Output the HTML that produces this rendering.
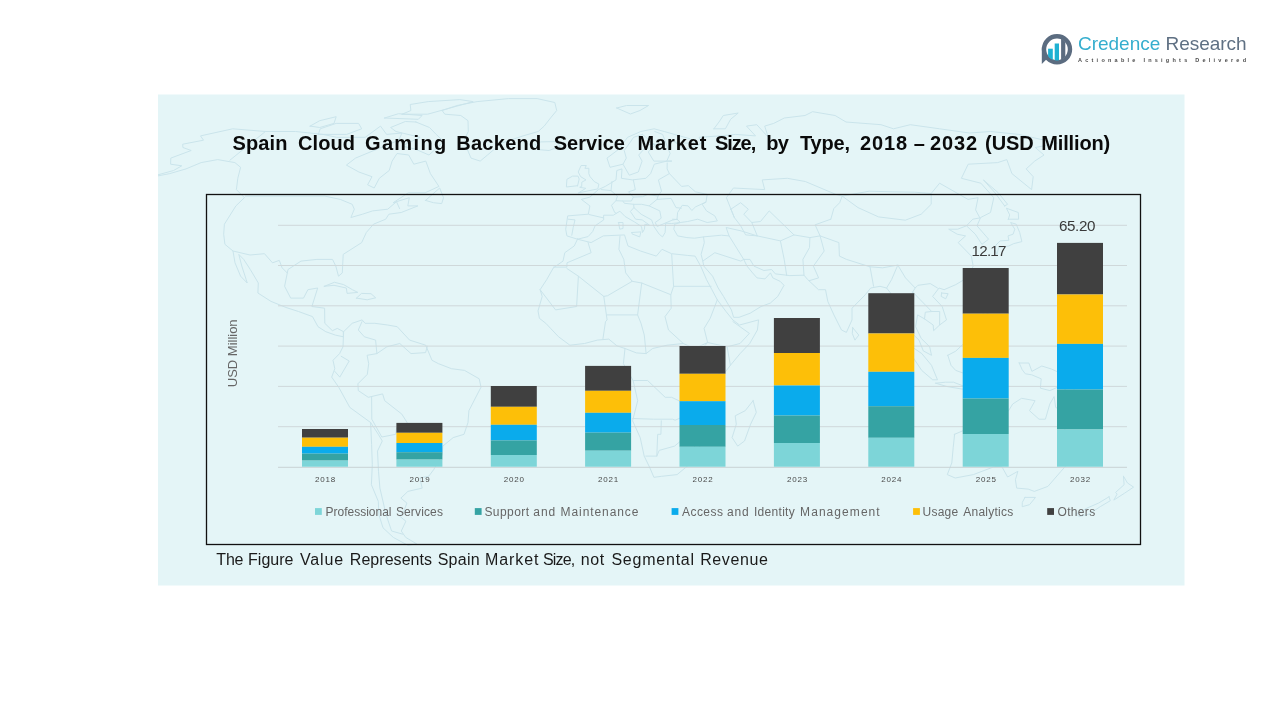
<!DOCTYPE html>
<html lang="en"><head><meta charset="utf-8"><title>Spain Cloud Gaming Backend Service Market Size</title>
<style>
html,body{margin:0;padding:0;background:#fff;}
body{width:1280px;height:720px;overflow:hidden;position:relative;font-family:"Liberation Sans",sans-serif;}
svg{position:absolute;left:0;top:0;display:block;}
text{font-family:"Liberation Sans",sans-serif;white-space:pre;}
</style></head><body>
<svg width="1280" height="720" viewBox="0 0 1280 720">
<defs>
<clipPath id="panelclip"><rect x="158" y="94.5" width="1026.5" height="491"/></clipPath>
<clipPath id="ringclip"><circle cx="1057" cy="49.3" r="11.2"/></clipPath>
</defs>
<rect x="0" y="0" width="1280" height="720" fill="#ffffff"/>
<!-- panel -->
<rect x="158" y="94.5" width="1026.5" height="491" fill="#e4f5f7"/>
<!-- faint world map backdrop -->
<g clip-path="url(#panelclip)">
<path d="M145.4 178.3 L173.6 170.5 L181.8 165.8 L170.6 164.2 L170.8 158.1 L191.2 150.5 L182.9 147.5 L182.7 144.2 L203.5 140.2 L200.5 135.9 L232.7 128.8 L265.4 131.5 L295.7 131.5 L323.0 134.4 L336.6 137.3 L365.2 137.3 L380.5 126.1 L386.6 134.4 L401.9 133.0 L398.8 140.2 L377.5 149.0 L355.5 158.1 L346.4 165.1 L358.9 172.0 L372.0 176.7 L367.6 184.8 L374.2 188.0 L379.3 178.3 L389.2 170.5 L392.1 161.1 L397.0 153.5 L408.7 155.0 L413.8 164.2 L425.8 161.1 L430.4 173.6 L438.9 186.4 L425.2 192.8 L408.3 192.8 L393.2 202.7 L409.3 197.7 L407.8 205.9 L417.9 205.9 L401.2 212.5 L388.9 214.2 L385.7 219.2 L373.5 224.2 L366.3 232.5 L361.7 242.6 L343.2 254.4 L342.3 272.9 L338.5 276.2 L335.8 266.1 L332.5 259.4 L316.9 259.4 L301.0 261.1 L288.0 269.5 L284.6 286.3 L290.7 298.1 L303.5 298.1 L307.9 289.7 L317.7 288.0 L311.9 306.5 L324.6 308.2 L324.8 323.3 L332.4 330.7 L337.3 328.4 L343.6 331.7 L343.4 336.8 L335.4 335.1 L325.8 331.7 L318.0 326.7 L312.5 316.6 L298.5 311.5 L286.1 307.5 L271.0 301.4 L257.9 293.0 L258.3 283.0 L250.3 269.5 L243.7 259.4 L238.8 254.4 L241.8 266.1 L246.2 279.6 L247.2 283.0 L240.6 276.2 L235.0 262.8 L233.0 251.0 L224.9 244.3 L223.7 234.2 L224.4 224.2 L235.9 205.9 L244.4 197.7 L236.4 189.6 L237.8 178.3 L240.6 167.3 L234.9 162.6 L217.7 159.6 L201.1 162.6 L186.0 168.9 L169.8 173.6 L145.4 178.3Z M343.6 331.7 L352.2 323.3 L362.1 319.9 L365.1 323.3 L374.8 323.3 L387.6 325.0 L397.2 326.7 L409.6 340.1 L425.7 345.2 L432.0 360.3 L438.5 363.7 L451.5 368.7 L464.5 370.4 L479.2 378.8 L481.0 387.2 L474.9 399.0 L468.9 410.7 L468.0 422.5 L464.0 434.3 L453.2 437.6 L442.8 446.1 L442.3 454.5 L433.7 469.6 L428.7 476.3 L419.8 478.0 L422.2 488.1 L407.9 491.4 L400.9 498.1 L406.9 503.1 L403.7 511.4 L399.8 516.3 L405.9 521.2 L401.3 531.0 L405.7 537.4 L416.7 543.9 L408.1 545.4 L393.3 537.4 L383.0 527.8 L378.9 514.7 L378.3 501.4 L371.4 484.7 L372.3 464.5 L371.6 444.4 L370.6 422.5 L349.8 407.4 L338.7 387.2 L331.7 377.1 L334.8 368.7 L333.0 360.3 L339.6 353.6 L343.0 346.8 L343.4 336.8Z M442.1 110.5 L457.1 105.5 L477.1 101.6 L508.5 98.6 L537.1 98.6 L554.8 102.5 L556.7 110.5 L550.5 118.0 L544.2 126.1 L538.2 131.5 L523.0 135.9 L501.5 143.1 L487.5 155.0 L480.2 161.1 L471.0 158.1 L467.2 149.0 L464.7 138.8 L468.3 131.5 L468.0 120.7 L460.8 115.5 L444.8 114.2 L442.1 110.5Z M577.5 239.2 L591.1 242.6 L603.3 235.9 L624.5 234.9 L628.0 246.0 L640.5 251.0 L656.3 256.1 L662.0 249.3 L671.6 253.7 L687.3 255.4 L695.1 256.1 L700.7 266.1 L706.5 279.6 L711.9 289.7 L717.3 299.8 L726.0 311.5 L732.8 319.9 L739.5 325.0 L758.6 319.9 L757.4 330.0 L749.7 343.5 L740.1 353.6 L730.4 365.3 L723.9 373.8 L720.4 383.8 L723.3 397.3 L724.3 410.7 L712.5 420.8 L705.8 427.6 L706.5 441.0 L698.1 447.7 L695.7 457.8 L687.2 466.2 L677.1 474.6 L661.6 476.3 L653.9 477.3 L649.9 467.9 L644.2 456.1 L640.2 437.6 L632.6 420.8 L637.7 400.7 L633.1 380.5 L623.4 363.7 L625.0 348.5 L616.9 345.8 L608.8 339.1 L597.4 340.1 L584.5 343.5 L569.9 345.2 L558.6 336.8 L550.6 328.4 L545.8 323.3 L539.4 318.3 L538.0 310.9 L542.2 296.4 L540.1 289.7 L546.7 279.6 L553.4 267.8 L563.0 261.1 L564.8 252.7 L574.2 246.0 L577.5 239.2Z M753.1 400.7 L756.3 412.4 L750.6 424.2 L744.5 441.0 L737.7 446.1 L732.1 437.6 L736.3 424.2 L735.2 415.8 L745.2 410.7 L753.1 400.7Z M577.5 239.2 L566.9 235.9 L565.7 229.2 L567.7 215.9 L588.3 214.2 L589.9 205.9 L581.4 199.4 L589.9 197.1 L598.4 189.6 L605.3 186.4 L616.0 179.9 L616.8 170.5 L622.0 168.9 L621.4 178.3 L632.4 179.9 L645.9 178.3 L650.6 173.6 L654.3 164.2 L666.8 161.1 L671.9 161.1 L653.8 161.1 L648.3 152.0 L655.5 144.5 L648.1 144.5 L638.7 155.0 L642.1 161.1 L638.3 172.0 L629.3 175.2 L623.0 164.2 L610.0 167.3 L607.0 158.1 L619.1 149.0 L627.6 137.3 L640.8 131.5 L654.1 128.8 L664.2 131.5 L690.1 138.8 L694.2 143.1 L679.5 143.1 L674.2 141.6 L683.9 149.0 L693.3 147.5 L701.5 143.1 L699.1 137.3 L719.9 135.9 L735.7 134.4 L755.5 135.9 L746.5 126.1 L756.8 124.7 L768.3 137.3 L764.7 126.1 L773.7 123.4 L784.3 118.0 L805.0 115.5 L812.6 111.7 L835.1 115.5 L846.0 122.0 L881.0 124.7 L893.5 128.8 L910.3 124.7 L939.6 128.8 L969.4 133.0 L990.6 131.5 L1018.7 134.4 L1057.5 143.1 L1035.3 147.5 L1044.0 155.0 L1034.7 161.1 L1026.2 168.9 L1033.2 176.7 L1031.6 189.6 L1011.9 173.6 L1006.8 159.6 L997.7 162.6 L968.2 164.2 L961.4 178.3 L980.9 183.2 L993.8 197.7 L990.5 212.5 L980.6 217.5 L977.0 225.8 L988.6 239.2 L981.9 244.3 L975.3 234.2 L966.5 225.8 L957.7 229.2 L948.7 229.2 L957.2 234.2 L965.6 235.9 L958.2 242.6 L971.3 256.1 L973.2 266.1 L967.1 277.9 L955.8 284.6 L944.1 289.7 L939.0 288.0 L932.6 296.4 L942.2 306.5 L946.5 319.9 L939.6 325.0 L933.6 330.7 L933.2 325.0 L924.5 318.9 L917.6 314.9 L915.6 326.7 L921.2 338.4 L929.7 346.8 L931.5 355.3 L923.3 350.9 L919.0 340.1 L912.1 333.4 L911.7 319.9 L906.7 304.8 L898.9 306.5 L894.5 298.1 L886.6 288.0 L880.0 286.3 L870.7 288.0 L865.3 294.7 L852.0 308.2 L852.0 319.9 L846.4 332.4 L841.5 330.0 L833.9 314.9 L827.8 301.4 L825.5 289.7 L818.5 289.7 L813.1 284.6 L807.7 279.6 L804.0 275.2 L789.9 275.6 L775.4 273.9 L771.6 269.5 L763.9 270.5 L753.9 266.1 L750.0 259.4 L743.7 259.4 L747.0 266.1 L752.6 272.9 L757.0 277.9 L765.0 278.9 L770.5 272.9 L772.8 277.9 L780.1 281.3 L784.0 285.3 L777.8 296.4 L770.3 303.1 L761.0 306.5 L750.2 313.2 L739.1 317.3 L733.6 317.3 L731.4 309.9 L723.5 296.4 L718.2 288.0 L712.6 276.2 L703.8 266.1 L702.8 261.1 L701.1 254.4 L704.3 242.6 L703.5 236.9 L694.6 238.2 L686.9 237.6 L677.6 235.9 L673.8 229.2 L674.7 224.2 L680.4 222.5 L687.7 221.5 L697.7 219.2 L707.2 222.5 L717.3 220.9 L714.8 215.9 L706.5 210.9 L702.2 204.3 L706.0 202.0 L695.5 206.9 L691.8 210.5 L688.1 205.9 L682.2 205.3 L677.6 212.5 L677.0 219.2 L680.4 222.5 L671.7 223.5 L665.7 223.2 L665.1 232.5 L662.5 236.9 L659.2 234.2 L654.1 226.8 L651.6 219.9 L641.1 214.2 L633.9 207.6 L630.4 211.5 L635.6 219.2 L642.2 219.9 L649.5 225.2 L644.9 224.2 L644.4 229.2 L642.5 232.5 L641.5 226.5 L634.3 221.8 L625.1 216.5 L619.9 211.2 L613.3 215.2 L603.6 215.2 L603.7 219.9 L595.1 225.8 L592.7 231.5 L588.1 236.6 L577.5 239.2Z M578.7 192.8 L597.8 188.9 L598.9 184.1 L594.2 181.5 L590.1 176.7 L588.8 173.6 L588.9 168.3 L584.9 168.3 L586.3 165.5 L581.1 165.5 L578.2 172.0 L580.7 176.7 L586.0 179.9 L581.8 182.2 L581.7 186.4 L579.7 187.3 L585.8 188.3 L578.7 192.8Z M577.6 185.7 L566.4 187.0 L566.9 179.3 L572.6 176.1 L578.0 176.1 L579.2 179.0 L577.6 185.7Z M535.4 144.5 L540.8 141.9 L555.4 141.6 L560.4 146.0 L549.1 150.5 L538.1 149.6 L535.4 144.5Z M997.0 254.4 L998.7 247.6 L1008.7 246.0 L1013.8 243.6 L1021.9 241.6 L1019.7 232.5 L1016.2 224.2 L1010.6 222.5 L1014.8 229.2 L1013.1 234.2 L1008.0 235.9 L1008.9 240.3 L1000.1 240.9 L996.0 245.0 L994.8 249.3 L997.0 254.4Z M1008.3 219.2 L1009.7 214.9 L1006.4 208.2 L1018.3 212.5 L1018.6 219.2 L1008.3 219.2Z M1004.6 205.9 L995.0 192.8 L983.4 179.9 L998.3 192.8 L1007.6 204.3 L1004.6 205.9Z M979.2 298.1 L984.3 299.8 L986.6 313.2 L993.4 316.6 L983.5 314.2 L979.1 306.5 L979.2 298.1Z M989.0 336.8 L995.1 331.7 L1003.3 333.4 L1002.2 340.1 L995.6 338.4 L989.0 336.8Z M976.2 276.2 L979.8 277.9 L977.8 286.3 L975.2 283.0 L976.2 276.2Z M941.6 293.0 L948.1 293.7 L945.7 298.8 L941.2 296.4 L941.6 293.0Z M852.7 327.7 L858.8 335.1 L854.9 340.1 L852.3 333.4 L852.7 327.7Z M902.9 341.8 L911.9 346.8 L921.8 353.6 L931.5 365.3 L937.5 379.8 L932.7 379.8 L921.7 370.4 L913.8 358.6 L902.9 341.8Z M935.7 383.2 L945.5 382.2 L953.5 382.2 L964.6 386.5 L962.8 389.2 L946.8 386.5 L935.7 383.2Z M947.8 355.3 L955.7 351.2 L962.0 345.2 L972.2 336.8 L979.8 343.5 L976.1 350.2 L979.6 356.9 L975.5 360.3 L971.9 372.1 L965.3 373.8 L955.7 370.4 L951.0 365.3 L947.8 355.3Z M981.3 378.8 L980.0 370.4 L983.5 357.9 L993.2 356.9 L999.7 355.3 L996.5 359.3 L985.2 360.3 L988.4 363.7 L993.2 363.7 L988.2 367.0 L991.2 375.4 L986.4 373.8 L984.9 369.7 L983.9 378.8 L981.3 378.8Z M1019.2 363.0 L1028.9 363.0 L1031.9 371.4 L1041.8 366.0 L1051.4 369.0 L1064.2 374.8 L1071.9 380.5 L1068.3 383.8 L1080.1 395.6 L1069.2 392.2 L1060.0 386.2 L1049.9 390.6 L1040.4 388.2 L1041.2 378.8 L1031.7 374.8 L1025.3 373.8 L1022.2 369.7 L1019.2 363.0Z M954.6 434.3 L953.2 447.7 L951.8 462.9 L947.3 474.6 L955.2 478.0 L973.4 474.6 L993.6 466.9 L1001.6 466.2 L1007.6 477.0 L1017.9 471.3 L1015.4 479.7 L1016.7 488.1 L1028.2 489.1 L1034.3 491.4 L1047.9 486.4 L1061.0 471.3 L1074.3 456.1 L1077.3 444.4 L1068.9 434.3 L1060.3 424.2 L1061.6 410.7 L1055.7 407.4 L1054.1 396.6 L1049.8 404.0 L1045.4 419.2 L1039.0 419.2 L1029.5 410.7 L1035.1 400.7 L1021.6 398.3 L1012.7 404.0 L1008.6 410.7 L999.4 407.4 L986.5 417.5 L981.8 425.9 L965.0 429.9 L954.6 434.3Z M1025.0 497.4 L1035.5 497.4 L1029.5 504.7 L1022.2 506.7 L1022.3 502.4 L1025.0 497.4Z M1123.5 476.3 L1127.5 483.0 L1133.6 487.1 L1124.7 493.1 L1113.8 500.1 L1117.1 494.1 L1115.6 492.4 L1124.1 484.7 L1123.5 476.3Z M1109.0 496.8 L1110.3 500.7 L1100.7 506.4 L1089.0 514.0 L1079.3 516.6 L1076.0 514.0 L1087.0 508.1 L1098.5 503.1 L1109.0 496.8Z M324.3 286.3 L334.4 282.3 L343.6 284.6 L352.4 289.7 L357.8 292.4 L347.1 293.4 L346.3 288.0 L334.0 285.3 L324.3 286.3Z M356.5 298.1 L361.5 293.4 L371.0 293.7 L375.7 297.8 L367.2 299.8 L356.5 298.1Z M415.9 122.0 L429.5 127.5 L436.2 134.4 L443.8 141.6 L429.0 155.0 L414.9 149.0 L401.9 146.0 L420.1 137.3 L396.0 131.5 L390.6 127.5 L405.3 121.5 L415.9 122.0Z M318.3 134.4 L346.6 134.4 L361.7 128.8 L358.6 123.4 L336.2 123.4 L320.2 128.8 L318.3 134.4Z M402.1 114.2 L427.7 114.2 L445.4 109.3 L473.2 101.6 L459.8 99.6 L428.2 101.6 L410.2 104.5 L410.9 110.5 L402.1 114.2Z M310.1 126.1 L319.7 127.5 L334.0 123.4 L336.2 116.7 L319.7 120.7 L310.1 126.1Z M384.5 118.0 L418.3 119.3 L422.1 115.5 L398.5 113.7 L384.5 118.0Z M425.5 200.4 L439.7 188.0 L443.5 197.7 L441.7 203.6 L433.4 202.7 L425.5 200.4Z M616.7 108.0 L626.5 105.5 L648.6 105.5 L640.0 110.5 L630.4 114.0 L616.7 108.0Z M713.9 128.8 L719.0 122.0 L723.3 115.5 L738.2 113.0 L730.6 119.3 L725.4 128.8 L713.9 128.8Z M730.9 209.2 L740.6 202.7 L748.3 209.2 L743.8 214.2 L751.8 222.5 L757.3 235.9 L745.6 234.9 L740.7 225.8 L734.3 217.5 L730.9 209.2Z M631.9 232.5 L640.9 231.9 L639.7 236.9 L632.0 233.9 L631.9 232.5Z M618.6 222.5 L623.0 222.5 L623.0 228.5 L619.7 229.2 L618.6 222.5Z M245.5 196.1 L324.9 196.1 L340.3 199.4 L352.2 204.3 L354.3 209.2 L350.9 217.5 L362.5 214.2 L372.6 210.9 L387.7 209.2 L396.5 201.7 L399.6 208.6 M233.0 251.0 L250.0 255.0 L264.5 253.7 L272.5 262.8 L279.3 260.4 L282.1 267.8 L287.2 272.9 M265.4 131.5 L229.9 160.2 M370.6 422.5 L378.3 434.3 L382.3 441.0 L377.5 451.1 L378.5 471.3 L379.9 488.1 L386.1 514.7 L391.6 531.0 L402.8 534.2 M415.1 461.2 L424.6 451.1 L422.4 446.1 L410.0 434.3 L409.2 425.9 L401.8 414.1 L384.7 400.7 L382.6 393.9 L368.3 397.3 L358.3 390.6 L357.9 383.8 L367.3 374.4 L368.7 363.7 L367.1 355.3 L376.9 353.6 L386.8 346.8 L399.8 343.5 L411.0 353.6 L425.6 352.6 L427.3 346.2 M409.2 425.9 L396.6 427.6 L395.7 434.3 L381.8 437.0 L371.8 419.2 L371.6 397.3 M334.8 371.4 L339.8 377.1 L349.2 361.0 L341.2 356.3 M362.0 321.6 L358.3 330.0 L364.4 336.8 L375.6 340.1 L376.9 353.6 M553.5 267.1 L566.9 267.1 L567.0 262.8 L591.1 252.7 L588.1 242.6 M566.9 268.5 L578.4 276.2 L576.6 306.5 L555.6 309.9 L540.1 289.7 M578.4 276.2 L603.8 296.4 L607.6 295.7 L632.2 281.3 L625.7 272.9 L623.8 259.4 L618.9 249.3 L620.0 235.9 M632.2 281.3 L641.7 283.0 L670.8 294.7 L673.6 286.3 L671.7 254.4 M673.6 286.3 L711.1 286.3 M670.8 294.7 L671.2 308.2 L665.0 316.6 L668.5 330.0 L683.3 343.5 L694.7 348.5 L707.6 342.5 L704.1 328.4 L710.2 318.3 L717.3 299.8 M641.7 283.0 L637.6 314.9 L641.0 323.3 L644.3 335.1 L646.1 353.6 L652.6 348.5 L667.1 345.2 L683.3 343.5 M603.8 296.4 L607.1 319.9 L605.5 321.6 L602.9 339.1 M637.6 314.9 L607.1 314.9 M625.0 348.5 L636.4 352.9 L646.1 353.6 M633.1 380.5 L647.6 380.5 L665.2 397.3 L671.6 397.3 L686.0 404.0 L692.8 387.9 L689.8 375.4 L689.9 365.3 L694.7 352.9 M632.6 418.5 L653.4 419.2 L672.6 419.2 L675.1 420.2 L692.1 413.1 L700.3 407.4 L706.4 415.8 L712.5 420.8 M656.8 456.1 L657.7 434.3 L660.9 434.3 L661.3 420.8 M645.8 456.1 L656.8 456.1 L659.2 450.4 L674.6 446.1 L687.8 435.0 L693.5 435.6 L694.8 450.4 M704.5 363.7 L716.4 370.4 L721.2 376.1 M704.5 363.7 L704.4 346.2 L707.6 342.5 L727.1 346.8 L730.4 365.3 M727.1 346.8 L740.0 343.5 L749.4 333.4 L732.9 321.6 M677.1 219.5 L672.6 219.2 M703.5 236.9 L721.4 235.2 L729.1 235.9 L743.7 259.4 M729.1 235.9 L726.1 227.5 L741.1 230.9 L757.3 235.9 M702.8 261.1 L714.8 252.7 L740.8 261.1 L743.7 259.4 M786.7 275.6 L784.2 259.4 L780.4 240.9 L794.0 234.9 L809.9 237.6 L820.1 235.9 L838.9 242.6 L839.4 256.1 L846.5 259.4 L870.0 266.8 L882.7 267.8 L897.8 265.1 L905.5 277.9 L915.2 288.0 L917.9 285.3 L930.3 283.6 L937.5 288.0 M804.0 275.2 L802.9 259.4 L809.5 247.6 L809.9 237.6 M809.4 280.6 L818.6 277.9 L813.4 266.1 L824.2 251.0 L820.1 235.9 M870.0 266.8 L873.6 286.3 M886.6 288.0 L891.6 279.6 L897.8 265.1 M911.7 319.9 L908.0 303.1 L912.7 292.0 L915.2 288.0 M912.7 292.0 L920.3 299.8 L931.7 311.5 L939.7 311.5 L939.6 325.0 M924.5 318.9 L925.3 312.2 L931.7 311.5 M757.3 235.9 L780.4 240.9 M751.8 222.5 L760.5 221.5 L769.2 210.9 L794.0 234.9 M734.3 217.5 L726.4 197.7 L733.4 188.0 L764.7 189.6 L762.2 179.9 L787.3 178.3 L805.3 181.5 L835.8 194.4 L842.2 196.1 M830.8 219.2 L815.1 224.8 L820.1 235.9 M830.8 219.2 L833.8 208.6 L839.7 202.7 L842.2 196.1 L869.2 191.2 L892.1 191.8 L914.8 192.2 L931.2 193.5 L931.2 204.3 L921.2 214.2 L905.3 220.2 L878.5 216.9 L858.0 207.6 L842.2 196.1 M931.2 193.5 L939.6 183.2 L968.0 199.4 L978.1 197.7 L975.6 209.9 L979.9 217.9 M966.5 225.8 L972.8 219.2 L979.9 217.9 M666.8 161.1 L670.1 153.5 L662.6 134.4 L654.8 131.5 M642.5 134.4 L652.7 143.1 L655.5 144.5 M623.0 164.2 L626.3 158.1 L624.2 150.5 L629.6 143.1 L633.6 137.3 L642.5 134.4 M667.2 163.0 L667.1 168.9 L669.4 173.6 L658.4 179.9 L661.5 191.2 L658.0 196.1 L657.0 199.4 L671.1 198.4 L676.0 207.6 L681.3 208.2 M706.0 202.0 L707.2 194.4 L695.4 191.8 L688.4 185.7 L681.6 186.4 L669.4 173.6 M633.3 179.9 L635.3 189.6 L628.5 191.8 L633.4 197.1 L642.5 196.7 L647.9 194.4 L658.0 196.1 M612.0 181.5 L611.0 190.6 L617.4 196.1 L615.9 200.7 L622.8 201.0 L631.4 201.0 L633.4 197.1 M601.2 189.6 L611.0 190.6 M615.9 200.7 L611.5 205.3 L614.7 212.5 L616.2 213.2 M622.8 201.0 L624.4 203.3 L633.7 204.3 L641.7 204.3 L649.1 205.9 L657.0 199.4 M633.9 207.6 L633.7 204.3 M649.1 205.9 L659.8 210.9 L661.2 218.2 L655.2 222.5 L657.1 226.5 L672.1 220.2 L677.0 219.2 M588.9 214.5 L603.6 217.9 M568.2 219.2 L575.0 219.9 L573.2 227.5 L571.8 235.2" fill="none" stroke="#cae4eb" stroke-width="1" stroke-linejoin="round" stroke-linecap="round"/>
</g>
<!-- chart frame -->
<rect x="206.5" y="194.5" width="934" height="350" fill="none" stroke="#111" stroke-width="1.3"/>

<line x1="278" y1="225.3" x2="1127" y2="225.3" stroke="#cfd8da" stroke-width="1"/>
<line x1="278" y1="265.5" x2="1127" y2="265.5" stroke="#cfd8da" stroke-width="1"/>
<line x1="278" y1="305.8" x2="1127" y2="305.8" stroke="#cfd8da" stroke-width="1"/>
<line x1="278" y1="346.1" x2="1127" y2="346.1" stroke="#cfd8da" stroke-width="1"/>
<line x1="278" y1="386.4" x2="1127" y2="386.4" stroke="#cfd8da" stroke-width="1"/>
<line x1="278" y1="426.7" x2="1127" y2="426.7" stroke="#cfd8da" stroke-width="1"/>
<line x1="278" y1="467.3" x2="1127" y2="467.3" stroke="#c8d2d4" stroke-width="1"/>
<rect x="302.0" y="429.0" width="46.0" height="8.7" fill="#404040"/>
<rect x="302.0" y="437.7" width="46.0" height="9.1" fill="#fdbf08"/>
<rect x="302.0" y="446.8" width="46.0" height="6.8" fill="#0aabec"/>
<rect x="302.0" y="453.6" width="46.0" height="7.0" fill="#35a3a3"/>
<rect x="302.0" y="460.6" width="46.0" height="6.1" fill="#7dd5d8"/>
<text x="325.5" y="481.7" font-size="8" fill="#4a4a4a" text-anchor="middle" letter-spacing="0.8">2018</text>
<rect x="396.4" y="422.9" width="46.0" height="9.9" fill="#404040"/>
<rect x="396.4" y="432.8" width="46.0" height="10.2" fill="#fdbf08"/>
<rect x="396.4" y="443.0" width="46.0" height="9.2" fill="#0aabec"/>
<rect x="396.4" y="452.2" width="46.0" height="7.4" fill="#35a3a3"/>
<rect x="396.4" y="459.6" width="46.0" height="7.1" fill="#7dd5d8"/>
<text x="419.9" y="481.7" font-size="8" fill="#4a4a4a" text-anchor="middle" letter-spacing="0.8">2019</text>
<rect x="490.8" y="386.0" width="46.0" height="20.8" fill="#404040"/>
<rect x="490.8" y="406.8" width="46.0" height="18.0" fill="#fdbf08"/>
<rect x="490.8" y="424.8" width="46.0" height="15.6" fill="#0aabec"/>
<rect x="490.8" y="440.4" width="46.0" height="14.6" fill="#35a3a3"/>
<rect x="490.8" y="455.0" width="46.0" height="11.7" fill="#7dd5d8"/>
<text x="514.3" y="481.7" font-size="8" fill="#4a4a4a" text-anchor="middle" letter-spacing="0.8">2020</text>
<rect x="585.1" y="365.9" width="46.0" height="24.9" fill="#404040"/>
<rect x="585.1" y="390.8" width="46.0" height="22.0" fill="#fdbf08"/>
<rect x="585.1" y="412.8" width="46.0" height="19.8" fill="#0aabec"/>
<rect x="585.1" y="432.6" width="46.0" height="18.1" fill="#35a3a3"/>
<rect x="585.1" y="450.7" width="46.0" height="16.0" fill="#7dd5d8"/>
<text x="608.6" y="481.7" font-size="8" fill="#4a4a4a" text-anchor="middle" letter-spacing="0.8">2021</text>
<rect x="679.5" y="346.0" width="46.0" height="27.8" fill="#404040"/>
<rect x="679.5" y="373.8" width="46.0" height="27.5" fill="#fdbf08"/>
<rect x="679.5" y="401.2" width="46.0" height="23.8" fill="#0aabec"/>
<rect x="679.5" y="425.0" width="46.0" height="21.8" fill="#35a3a3"/>
<rect x="679.5" y="446.8" width="46.0" height="19.9" fill="#7dd5d8"/>
<text x="703.0" y="481.7" font-size="8" fill="#4a4a4a" text-anchor="middle" letter-spacing="0.8">2022</text>
<rect x="773.9" y="318.0" width="46.0" height="35.0" fill="#404040"/>
<rect x="773.9" y="353.0" width="46.0" height="32.5" fill="#fdbf08"/>
<rect x="773.9" y="385.5" width="46.0" height="30.0" fill="#0aabec"/>
<rect x="773.9" y="415.5" width="46.0" height="27.5" fill="#35a3a3"/>
<rect x="773.9" y="443.0" width="46.0" height="23.7" fill="#7dd5d8"/>
<text x="797.4" y="481.7" font-size="8" fill="#4a4a4a" text-anchor="middle" letter-spacing="0.8">2023</text>
<rect x="868.3" y="293.2" width="46.0" height="40.3" fill="#404040"/>
<rect x="868.3" y="333.5" width="46.0" height="38.3" fill="#fdbf08"/>
<rect x="868.3" y="371.8" width="46.0" height="34.4" fill="#0aabec"/>
<rect x="868.3" y="406.2" width="46.0" height="31.6" fill="#35a3a3"/>
<rect x="868.3" y="437.8" width="46.0" height="28.9" fill="#7dd5d8"/>
<text x="891.8" y="481.7" font-size="8" fill="#4a4a4a" text-anchor="middle" letter-spacing="0.8">2024</text>
<rect x="962.7" y="268.0" width="46.0" height="45.7" fill="#404040"/>
<rect x="962.7" y="313.7" width="46.0" height="44.2" fill="#fdbf08"/>
<rect x="962.7" y="357.9" width="46.0" height="40.6" fill="#0aabec"/>
<rect x="962.7" y="398.5" width="46.0" height="35.5" fill="#35a3a3"/>
<rect x="962.7" y="434.0" width="46.0" height="32.7" fill="#7dd5d8"/>
<text x="986.2" y="481.7" font-size="8" fill="#4a4a4a" text-anchor="middle" letter-spacing="0.8">2025</text>
<rect x="1057.0" y="242.9" width="46.0" height="51.6" fill="#404040"/>
<rect x="1057.0" y="294.5" width="46.0" height="49.4" fill="#fdbf08"/>
<rect x="1057.0" y="343.9" width="46.0" height="45.6" fill="#0aabec"/>
<rect x="1057.0" y="389.5" width="46.0" height="40.0" fill="#35a3a3"/>
<rect x="1057.0" y="429.5" width="46.0" height="37.2" fill="#7dd5d8"/>
<text x="1080.5" y="481.7" font-size="8" fill="#4a4a4a" text-anchor="middle" letter-spacing="0.8">2032</text>
<!-- data labels -->
<text x="971.6" y="255.9" font-size="15.2" fill="#3a3a3a" textLength="34.8" lengthAdjust="spacing">12.17</text>
<text x="1059" y="231" font-size="15.2" fill="#3a3a3a" textLength="36.4" lengthAdjust="spacing">65.20</text>
<!-- y axis title -->
<text transform="translate(237.3,387.2) rotate(-90)" font-size="13" fill="#666666" textLength="67.8" lengthAdjust="spacing">USD Million</text>
<!-- legend -->
<rect x="315.0" y="508.1" width="6.8" height="6.8" fill="#7dd5d8"/>
<text y="515.8" font-size="12" fill="#666666" ><tspan x="325.6" textLength="65.9" lengthAdjust="spacing">Professional</tspan> <tspan x="395.9" textLength="47.0" lengthAdjust="spacing">Services</tspan></text>
<rect x="474.8" y="508.1" width="6.8" height="6.8" fill="#35a3a3"/>
<text y="515.8" font-size="12" fill="#666666" ><tspan x="484.4" textLength="44.6" lengthAdjust="spacing">Support</tspan> <tspan x="533.3" textLength="21.9" lengthAdjust="spacing">and</tspan> <tspan x="560.6" textLength="77.8" lengthAdjust="spacing">Maintenance</tspan></text>
<rect x="671.6" y="508.1" width="6.8" height="6.8" fill="#0aabec"/>
<text y="515.8" font-size="12" fill="#666666" ><tspan x="682.1" textLength="40.8" lengthAdjust="spacing">Access</tspan> <tspan x="727.0" textLength="21.6" lengthAdjust="spacing">and</tspan> <tspan x="754.0" textLength="40.7" lengthAdjust="spacing">Identity</tspan> <tspan x="800.1" textLength="79.6" lengthAdjust="spacing">Management</tspan></text>
<rect x="913.1" y="508.1" width="6.8" height="6.8" fill="#fdbf08"/>
<text y="515.8" font-size="12" fill="#666666" ><tspan x="922.6" textLength="35.6" lengthAdjust="spacing">Usage</tspan> <tspan x="963.2" textLength="50.0" lengthAdjust="spacing">Analytics</tspan></text>
<rect x="1047.2" y="508.1" width="6.8" height="6.8" fill="#404040"/>
<text y="515.8" font-size="12" fill="#666666" ><tspan x="1057.5" textLength="37.7" lengthAdjust="spacing">Others</tspan></text>
<!-- title -->
<text y="149.5" font-size="20" fill="#0a0a0a" font-weight="bold"><tspan x="232.5" textLength="55.0" lengthAdjust="spacing">Spain</tspan> <tspan x="298" textLength="57.0" lengthAdjust="spacing">Cloud</tspan> <tspan x="365" textLength="81.2" lengthAdjust="spacing">Gaming</tspan> <tspan x="456.25" textLength="85.0" lengthAdjust="spacing">Backend</tspan> <tspan x="553.75" textLength="71.2" lengthAdjust="spacing">Service</tspan> <tspan x="637.5" textLength="68.8" lengthAdjust="spacing">Market</tspan> <tspan x="715" textLength="41.2" lengthAdjust="spacing">Size,</tspan> <tspan x="766.25" textLength="22.5" lengthAdjust="spacing">by</tspan> <tspan x="800" textLength="50.0" lengthAdjust="spacing">Type,</tspan> <tspan x="860" textLength="47.0" lengthAdjust="spacing">2018</tspan> <tspan x="913.75" textLength="11.2" lengthAdjust="spacing">–</tspan> <tspan x="930" textLength="47.0" lengthAdjust="spacing">2032</tspan> <tspan x="985" textLength="48.8" lengthAdjust="spacing">(USD</tspan> <tspan x="1041.25" textLength="69.0" lengthAdjust="spacing">Million)</tspan></text>
<!-- footer -->
<text y="564.6" font-size="16" fill="#1a1a1a" ><tspan x="216.3" textLength="27.2" lengthAdjust="spacing">The</tspan> <tspan x="248.1" textLength="45.3" lengthAdjust="spacing">Figure</tspan> <tspan x="299.9" textLength="43.3" lengthAdjust="spacing">Value</tspan> <tspan x="349.8" textLength="82.2" lengthAdjust="spacing">Represents</tspan> <tspan x="437.7" textLength="41.9" lengthAdjust="spacing">Spain</tspan> <tspan x="485" textLength="53.4" lengthAdjust="spacing">Market</tspan> <tspan x="543" textLength="32.2" lengthAdjust="spacing">Size,</tspan> <tspan x="580.8" textLength="23.3" lengthAdjust="spacing">not</tspan> <tspan x="611.4" textLength="82.7" lengthAdjust="spacing">Segmental</tspan> <tspan x="700.2" textLength="67.7" lengthAdjust="spacing">Revenue</tspan></text>
<!-- logo -->
<g id="logo">
<path d="M1057 34.1 A15.2 15.2 0 1 1 1057 64.5 A15.2 15.2 0 1 1 1057 34.1 Z M1057 38.5 A10.8 10.8 0 1 0 1057 60.1 A10.8 10.8 0 1 0 1057 38.5 Z" fill="#5b6c80" fill-rule="evenodd"/>
<path d="M1041.8 47 V64.1 L1047.3 58.6 Z" fill="#5b6c80"/>
<g clip-path="url(#ringclip)">
<rect x="1048.1" y="48.7" width="4.7" height="16" fill="#1fb1d2"/>
<rect x="1054.7" y="43.5" width="4.3" height="21" fill="#1fb1d2"/>
<rect x="1061.1" y="36" width="4.2" height="28" fill="#5b6c80"/>
</g>
<text x="1078" y="50.4" font-size="19" fill="#5f7083" textLength="168.6" lengthAdjust="spacing"><tspan fill="#35aece">Credence</tspan> Research</text>
<text x="1078" y="61.7" font-size="5.5" font-weight="bold" fill="#4a4a4a" textLength="168" lengthAdjust="spacing">Actionable Insights Delivered</text>
</g>
</svg>
</body></html>
